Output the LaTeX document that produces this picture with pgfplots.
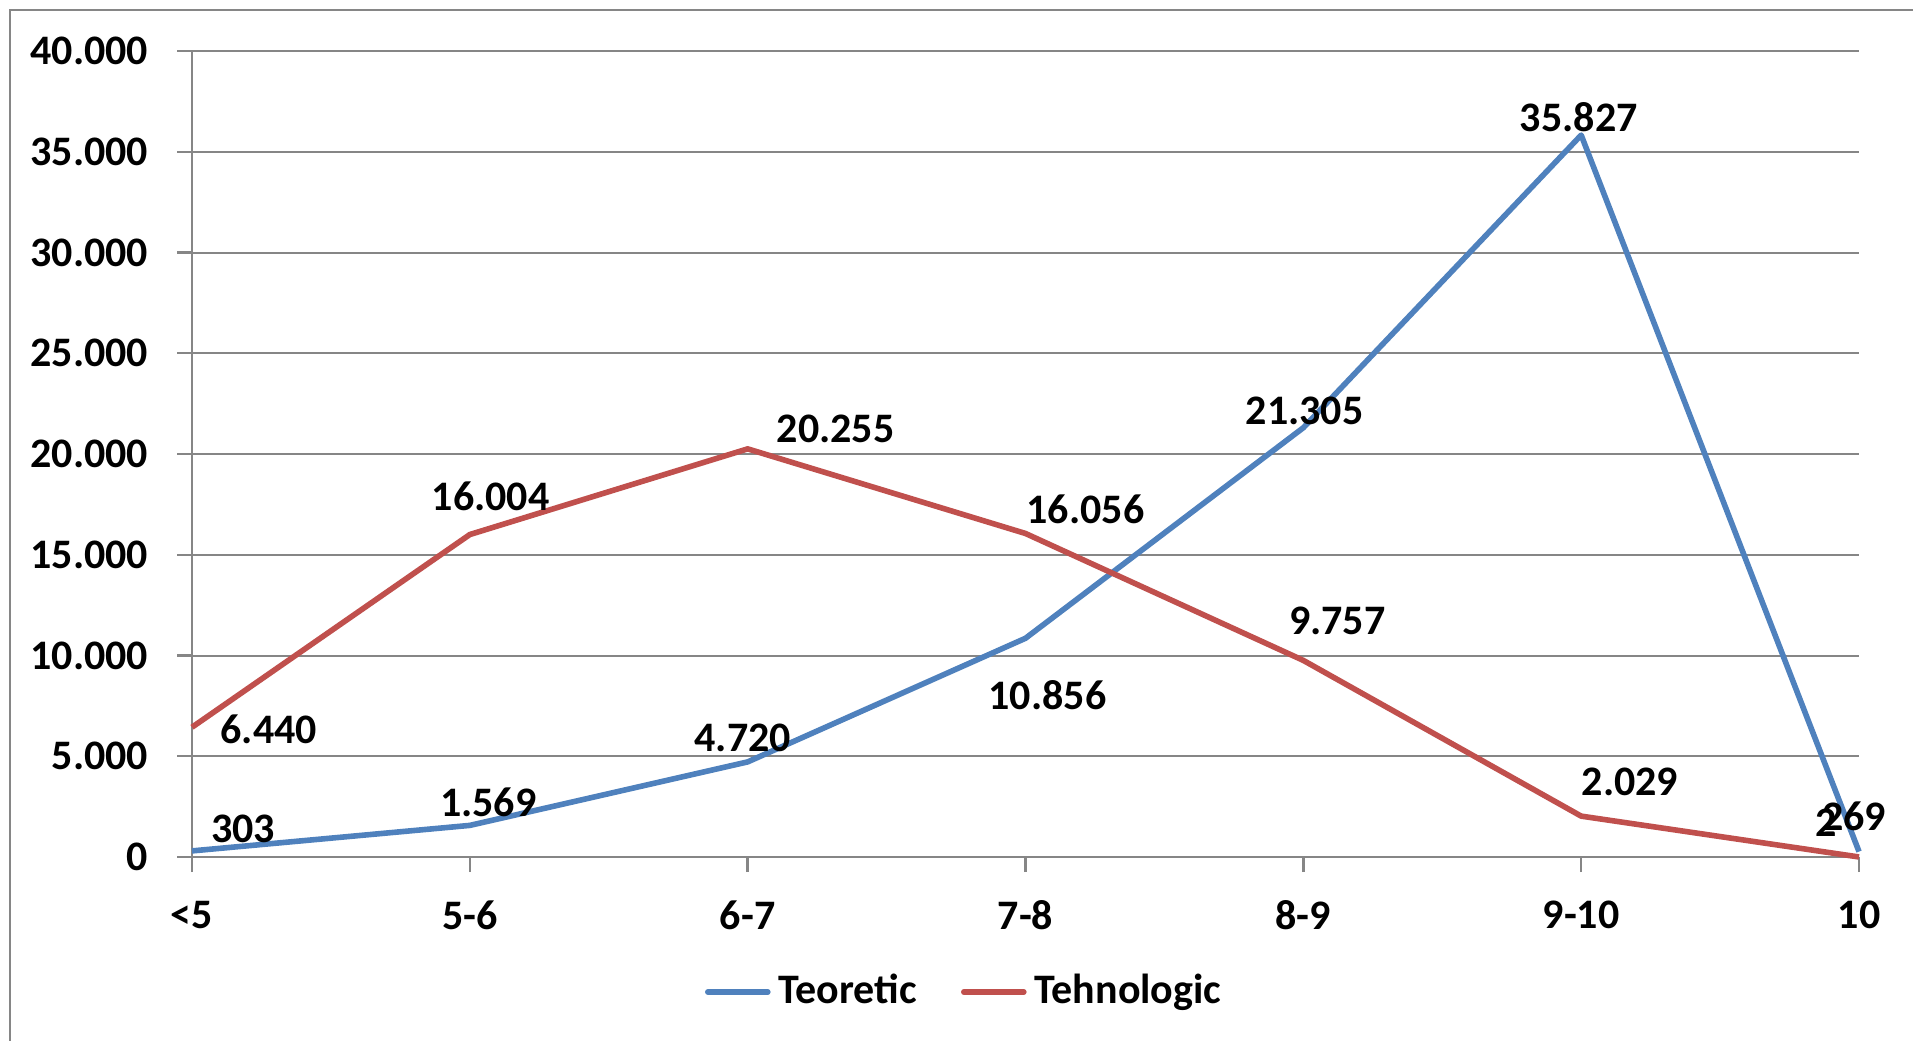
\documentclass[border=0pt]{standalone}
\usepackage{pgfplots}
\pgfplotsset{compat=1.18}
\usepackage{fontspec}
\setmainfont{Carlito}

\definecolor{teor}{HTML}{4F81BD}
\definecolor{tehn}{HTML}{C0504D}
\definecolor{gridgray}{HTML}{868686}

\begin{document}
\begin{tikzpicture}
\fontsize{10.5}{12}\selectfont\bfseries
\begin{axis}[
    at={(48pt,45.75pt)}, anchor=south west,
    scale only axis,
    width=416.75pt, height=201.5pt,
    clip=false,
    xmin=0, xmax=6,
    ymin=0, ymax=40000,
    xtick={0,...,6},
    xticklabels={{<5},{5-6},{6-7},{7-8},{8-9},{9-10},{10}},
    ytick={0,5000,...,40000},
    scaled y ticks=false,
    /pgf/number format/1000 sep={.},
    /pgf/number format/assume math mode=true,
    axis x line*=bottom, axis y line*=left,
    axis line style={gridgray, line width=0.6pt, -},
    tick align=outside,
    major tick length=3.75pt,
    tick style={gridgray, line width=0.6pt},
    ymajorgrids,
    grid style={gridgray, line width=0.5pt},
    ticklabel style={font=\fontsize{10.5}{12}\selectfont\bfseries, inner sep=0pt},
    yticklabel style={anchor=east},
    xticklabel style={anchor=north},
    xticklabel shift=7pt, yticklabel shift=7pt,
    legend columns=2,
    legend style={at={(0.465,-0.1675)}, anchor=center, draw=none, fill=none,
        font=\fontsize{10.5}{12}\selectfont\bfseries,
        /tikz/every even column/.append style={column sep=9pt}},
    legend cell align=left,
    legend image code/.code={\draw[#1, line cap=round] (0pt,0pt) -- (15pt,0pt);},
  ]
\addplot[teor, line width=1.4pt, line join=round] coordinates {
  (0,303) (1,1569) (2,4720) (3,10856) (4,21305) (5,35827) (6,269)};
\addplot[tehn, line width=1.4pt, line join=round] coordinates {
  (0,6440) (1,16004) (2,20255) (3,16056) (4,9757) (5,2029) (6,2)};
\legend{Teoretic,Tehnologic}

% data labels
\node[xshift=12.8pt, yshift=5.5pt] at (axis cs:0,303) {303};
\node[xshift=4.6pt, yshift=5.8pt] at (axis cs:1,1569) {1.569};
\node[xshift=-1.2pt, yshift=6.1pt] at (axis cs:2,4720) {4.720};
\node[xshift=5.5pt, yshift=-14.3pt] at (axis cs:3,10856) {10.856};
\node[xshift=0.3pt, yshift=4.3pt] at (axis cs:4,21305) {21.305};
\node[xshift=-0.6pt, yshift=4.6pt] at (axis cs:5,35827) {35.827};
\node[xshift=-8.2pt, yshift=8.5pt] at (axis cs:6,2) {2};
\node[xshift=-1.2pt, yshift=8.75pt] at (axis cs:6,269) {269};

\node[xshift=19.2pt, yshift=-0.6pt] at (axis cs:0,6440) {6.440};
\node[xshift=5.2pt, yshift=9.5pt] at (axis cs:1,16004) {16.004};
\node[xshift=22pt, yshift=4.9pt] at (axis cs:2,20255) {20.255};
\node[xshift=15pt, yshift=6.1pt] at (axis cs:3,16056) {16.056};
\node[xshift=8.5pt, yshift=9.8pt] at (axis cs:4,9757) {9.757};
\node[xshift=12.2pt, yshift=8.5pt] at (axis cs:5,2029) {2.029};
\end{axis}
\draw[gridgray, line width=0.5pt] (2.5pt,-5pt) -- (2.5pt,257.5pt) -- (490pt,257.5pt);
\pgfresetboundingbox
\useasboundingbox (0,0) rectangle (478.25pt,260pt);
\end{tikzpicture}
\end{document}
